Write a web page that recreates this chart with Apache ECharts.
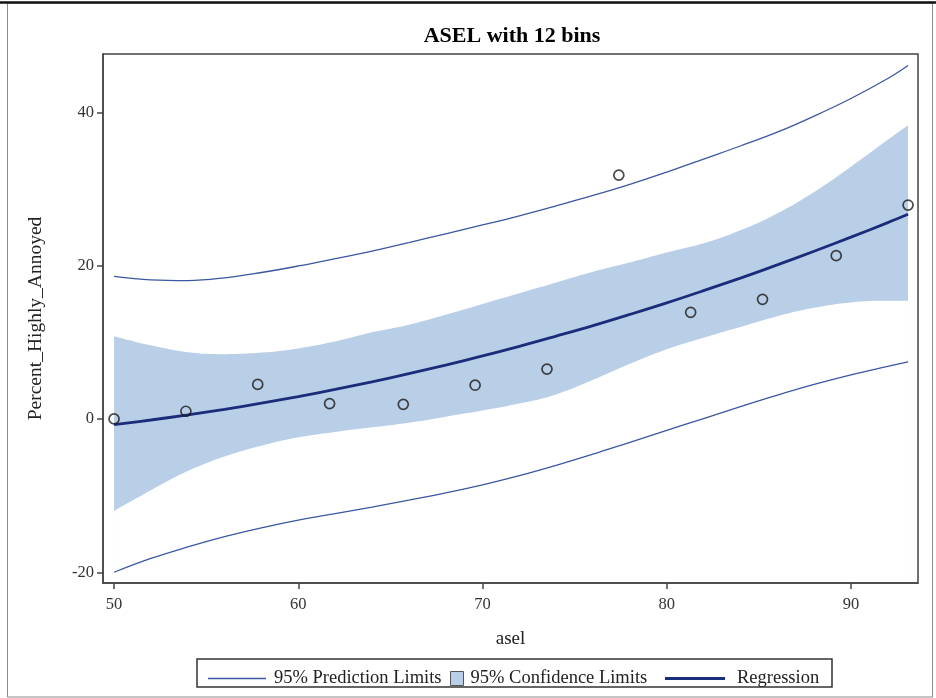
<!DOCTYPE html>
<html>
<head>
<meta charset="utf-8">
<script src="https://cdn.jsdelivr.net/npm/echarts@6/dist/echarts.min.js"></script>
<style>
html,body{margin:0;padding:0;background:#fff;}
#chart{width:936px;height:698px;}
</style>
</head>
<body>
<div id="chart"></div>
<script>
// ---- data ----
const curveX     = [50, 52, 54, 56, 58, 60, 62, 64, 66, 68, 70, 72, 74, 76, 78, 80, 82, 84, 86, 88, 90, 92, 93.1];
const regression = [-0.74, -0.14, 0.53, 1.26, 2.06, 2.92, 3.85, 4.84, 5.90, 7.03, 8.22, 9.47, 10.80, 12.17, 13.63, 15.14, 16.73, 18.37, 20.09, 21.87, 23.71, 25.61, 26.70];
const predUpper  = [18.6, 18.15, 18.05, 18.4, 19.1, 19.95, 20.9, 21.9, 23.0, 24.15, 25.3, 26.5, 27.8, 29.15, 30.6, 32.2, 33.9, 35.6, 37.4, 39.5, 41.8, 44.4, 46.1];
const predLower  = [-20.0, -18.2, -16.7, -15.35, -14.2, -13.2, -12.35, -11.5, -10.6, -9.65, -8.6, -7.4, -6.05, -4.6, -3.05, -1.5, 0.05, 1.6, 3.1, 4.5, 5.75, 6.85, 7.45];
const confUpper  = [10.8, 9.6, 8.7, 8.45, 8.65, 9.2, 10.1, 11.3, 12.3, 13.6, 15.0, 16.4, 17.8, 19.2, 20.4, 21.7, 22.9, 24.6, 26.8, 29.6, 32.9, 36.4, 38.3];
const confLower  = [-12.0, -9.3, -6.8, -4.9, -3.5, -2.4, -1.7, -1.1, -0.5, 0.3, 1.1, 2.0, 3.2, 5.1, 7.2, 9.1, 10.6, 12.0, 13.4, 14.5, 15.2, 15.4, 15.4];
const binX = [50.0, 53.9, 57.8, 61.7, 65.7, 69.6, 73.5, 77.4, 81.3, 85.2, 89.2, 93.1];
const binY = [0.0, 1.0, 4.5, 2.0, 1.9, 4.4, 6.5, 31.8, 13.9, 15.6, 21.3, 27.9];
const xTicks = [50, 60, 70, 80, 90];
const yTicks = [-20, 0, 20, 40];

const pairs = (xa, ya) => xa.map((x, i) => [x, ya[i]]);
const serif = 'Liberation Serif';
const predColor = '#3b57a3';
const regColor = '#1b2c7a';
const bandColor = '#b9cee7';

const chart = echarts.init(document.getElementById('chart'), null, {renderer: 'canvas'});
chart.setOption({
  animation: false,
  backgroundColor: '#fff',
  title: {
    text: 'ASEL with 12 bins',
    left: 507, top: 20, textAlign: 'center',
    textStyle: {fontFamily: serif, fontWeight: 'bold', fontSize: 22, color: '#000'}
  },
  grid: {left: 103, top: 54, right: 18, bottom: 115, show: true, borderColor: '#444', borderWidth: 1.5, containLabel: false, z: 0},
  xAxis: {
    type: 'value', min: 49.4, max: 93.64,
    name: 'asel', nameLocation: 'middle', nameGap: 47,
    nameTextStyle: {fontFamily: serif, fontSize: 19, color: '#222'},
    axisLine: {show: true, onZero: false, lineStyle: {color: '#444', width: 1.5}},
    axisTick: {show: true, length: 6, inside: false, customValues: xTicks, lineStyle: {color: '#444', width: 1.5}},
    axisLabel: {customValues: xTicks, fontFamily: serif, fontSize: 16.5, color: '#333', margin: 13},
    splitLine: {show: false}
  },
  yAxis: {
    type: 'value', min: -21.4, max: 47.6,
    name: 'Percent_Highly_Annoyed', nameLocation: 'middle', nameGap: 57,
    nameTextStyle: {fontFamily: serif, fontSize: 19.5, color: '#222'},
    axisLine: {show: true, onZero: false, lineStyle: {color: '#444', width: 1.5}},
    axisTick: {show: true, length: 6, inside: false, customValues: yTicks, lineStyle: {color: '#444', width: 1.5}},
    axisLabel: {customValues: yTicks, fontFamily: serif, fontSize: 16.5, color: '#333', margin: 9},
    splitLine: {show: false}
  },
  legend: [
    {data: [{name: '95% Prediction Limits', icon: 'rect'}], left: 203, top: 664, itemWidth: 58, itemHeight: 1.5, selectedMode: false,
     textStyle: {fontFamily: serif, fontSize: 18.5, color: '#222', padding: [0, 0, 0, 3]}},
    {data: [{name: '95% Confidence Limits', icon: 'rect', itemStyle: {color: bandColor, borderColor: '#555', borderWidth: 1}}],
     left: 445, top: 664, itemWidth: 13, itemHeight: 14, selectedMode: false,
     textStyle: {fontFamily: serif, fontSize: 18.5, color: '#222', padding: [0, 0, 0, 2]}},
    {data: [{name: 'Regression', icon: 'rect'}], left: 660, top: 664, itemWidth: 60, itemHeight: 3, selectedMode: false,
     textStyle: {fontFamily: serif, fontSize: 18.5, color: '#222', padding: [0, 0, 0, 7]}}
  ],
  graphic: [
    {type: 'rect', shape: {x: 7.5, y: 3, width: 925, height: 694}, style: {fill: 'none', stroke: '#8a8a8a', lineWidth: 1}, silent: true, z: -10},
    {type: 'line', shape: {x1: 0, y1: 2.5, x2: 936, y2: 2.5}, style: {stroke: '#111', lineWidth: 2.5}, silent: true},
    {type: 'rect', shape: {x: 197, y: 659, width: 635, height: 28}, style: {fill: 'none', stroke: '#333', lineWidth: 1.5}, silent: true}
  ],
  series: [
    // confidence band: upper limit filled down, lower limit masks below it
    {name: '95% Confidence Limits', type: 'line', data: pairs(curveX, confUpper), symbol: 'none', smooth: 0.4,
     color: bandColor, lineStyle: {width: 0, opacity: 0}, areaStyle: {color: bandColor, opacity: 1, origin: 'start'},
     silent: true, z: -2},
    {name: 'confLowerMask', type: 'line', data: pairs(curveX, confLower), symbol: 'none', smooth: 0.4,
     color: '#fff', lineStyle: {width: 0, opacity: 0}, areaStyle: {color: '#fff', opacity: 1, origin: 'start'},
     silent: true, z: -1},
    {name: '95% Prediction Limits', type: 'line', data: pairs(curveX, predUpper), symbol: 'none', smooth: 0.4,
     color: predColor, lineStyle: {color: predColor, width: 1.3}, z: 2},
    {name: '95% Prediction Limits', type: 'line', data: pairs(curveX, predLower), symbol: 'none', smooth: 0.4,
     color: predColor, lineStyle: {color: predColor, width: 1.3}, z: 2},
    {name: 'Regression', type: 'line', data: pairs(curveX, regression), symbol: 'none', smooth: 0.4,
     color: regColor, lineStyle: {color: regColor, width: 2.8}, z: 3},
    {name: 'bins', type: 'scatter', data: pairs(binX, binY), symbol: 'circle', symbolSize: 10,
     itemStyle: {color: 'rgba(0,0,0,0)', borderColor: '#1a1a1a', borderWidth: 1.7}, z: 4}
  ]
});
</script>
</body>
</html>
